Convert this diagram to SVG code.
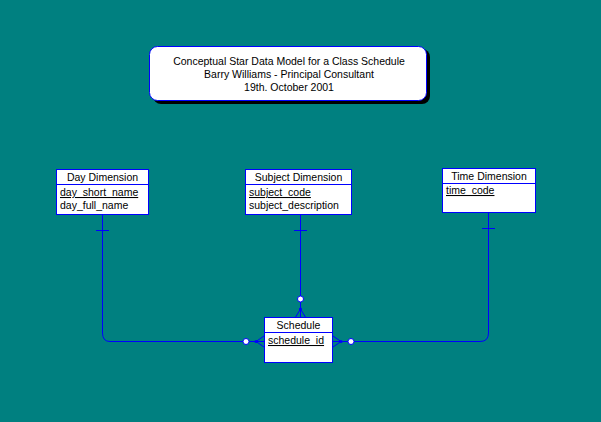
<svg xmlns="http://www.w3.org/2000/svg" width="601" height="422" viewBox="0 0 601 422">
<style>
.box{fill:#fff;stroke:#0000ff;stroke-width:1}
.ln{fill:none;stroke:#0000ff;stroke-width:1}
.t{font-family:"Liberation Sans",Arial,sans-serif;font-size:10.5px;fill:#000}
.c{text-anchor:middle}
.u{text-decoration:underline}
.dot{fill:#fff;stroke:#0000ff;stroke-width:1}
.j{fill:#0000ff}
</style>
<rect x="0" y="0" width="601" height="422" fill="#008080"/>
<g id="title">
<rect x="153" y="49" width="277" height="55" rx="8" fill="#000"/>
<rect x="149.5" y="46.5" width="277" height="54" rx="8" class="box"/>
<text class="t c" x="289" y="65">Conceptual Star Data Model for a Class Schedule</text>
<text class="t c" x="289" y="78">Barry Williams - Principal Consultant</text>
<text class="t c" x="289" y="91">19th. October 2001</text>
</g>
<g id="connectors">
<path class="ln" d="M102.5 215 V333 Q102.5 341.5 110 341.5 H243"/>
<path class="ln" d="M96 230.5 H109"/>
<path class="ln" d="M300.5 215 V296"/>
<path class="ln" d="M294 230.5 H307"/>
<path class="ln" d="M488.5 213 V333 Q488.5 341.5 480 341.5 H354"/>
<path class="ln" d="M482 228.5 H495"/>
<path class="ln" d="M249 341.5 H256 M256 341.5 L264 336 M256 341.5 L264 341.5 M256 341.5 L264 347"/>
<path class="ln" d="M300.5 302 V309 M300.5 309 L295 318 M300.5 309 L300.5 318 M300.5 309 L306 318"/>
<path class="ln" d="M348 341.5 H341 M341 341.5 L333 336 M341 341.5 L333 341.5 M341 341.5 L333 347"/>
<circle class="j" cx="256" cy="341.5" r="1.6"/>
<circle class="j" cx="300.5" cy="309" r="1.6"/>
<circle class="j" cx="341" cy="341.5" r="1.6"/>
<circle class="dot" cx="246" cy="341.5" r="3"/>
<circle class="dot" cx="300.5" cy="299" r="3"/>
<circle class="dot" cx="351" cy="341.5" r="3"/>
</g>
<g id="day">
<rect class="box" x="56.5" y="169.5" width="92" height="45"/>
<path class="ln" d="M56.5 184.5 H148.5"/>
<text class="t c" x="102.5" y="181">Day Dimension</text>
<text class="t u" x="60" y="196">day_short_name</text>
<text class="t" x="60" y="209">day_full_name</text>
</g>
<g id="subject">
<rect class="box" x="245.5" y="169.5" width="106" height="45"/>
<path class="ln" d="M245.5 184.5 H351.5"/>
<text class="t c" x="298.5" y="181">Subject Dimension</text>
<text class="t u" x="249" y="196">subject_code</text>
<text class="t" x="249" y="209">subject_description</text>
</g>
<g id="time">
<rect class="box" x="442.5" y="168.5" width="93" height="44"/>
<path class="ln" d="M442.5 183.5 H535.5"/>
<text class="t c" x="489" y="180">Time Dimension</text>
<text class="t u" x="446" y="194">time_code</text>
</g>
<g id="schedule">
<rect class="box" x="264.5" y="317.5" width="68" height="45"/>
<path class="ln" d="M264.5 332.5 H332.5"/>
<text class="t c" x="298.5" y="329">Schedule</text>
<text class="t u" x="268" y="344">schedule_id</text>
</g>
</svg>
